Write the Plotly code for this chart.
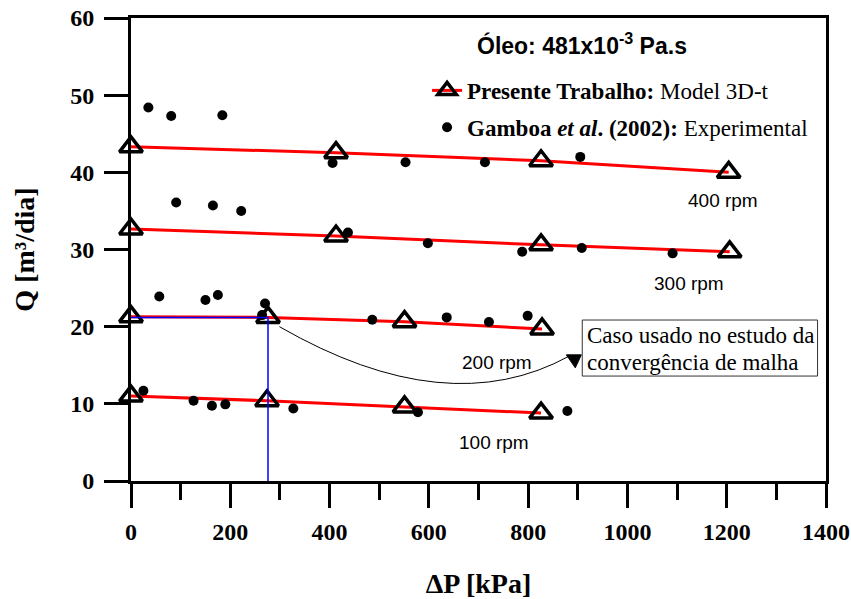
import plotly.graph_objects as go

# ---------------- data ----------------
# Presente Trabalho: Model 3D-t  (ΔP [kPa], Q [m³/dia])
dp_model_400 = [0, 413, 826, 1204]
q_model_400 = [43.3, 42.55, 41.5, 40.0]
dp_model_300 = [0, 413, 826, 1206]
q_model_300 = [32.65, 31.75, 30.6, 29.7]
dp_model_200 = [0, 276, 551, 828]
q_model_200 = [21.3, 21.2, 20.65, 19.7]
dp_model_100 = [0, 274, 551, 826]
q_model_100 = [11.0, 10.4, 9.6, 8.8]

# Gamboa et al. (2002): Experimental
dp_exp_400 = [35, 81, 184, 406, 553, 713, 905]
q_exp_400 = [48.4, 47.3, 47.4, 41.2, 41.3, 41.3, 42.0]
dp_exp_300 = [91, 165, 222, 437, 598, 788, 908, 1091]
q_exp_300 = [36.1, 35.7, 35.0, 32.2, 30.8, 29.7, 30.2, 29.5]
dp_exp_200 = [57, 150, 175, 264, 270, 486, 636, 721, 799]
q_exp_200 = [23.9, 23.45, 24.1, 21.5, 23.0, 20.9, 21.2, 20.6, 21.4]
dp_exp_100 = [25, 126, 163, 190, 327, 578, 879]
q_exp_100 = [11.7, 10.4, 9.76, 9.93, 9.4, 8.9, 9.07]

rpm_labels = ["400 rpm", "300 rpm", "200 rpm", "100 rpm"]
rpm_label_dp = [1193, 1125, 738, 732]
rpm_label_q = [36.4, 25.6, 15.4, 5.0]

# case used in the mesh convergence study (200 rpm, 2nd model point)
case_dp = dp_model_200[1]
case_q = q_model_200[1]

note_lines = ["Caso usado no estudo da", "convergência de malha"]

x_ticks = [0, 200, 400, 600, 800, 1000, 1200, 1400]
y_ticks = [0, 10, 20, 30, 40, 50, 60]

# ---------------- figure ----------------
def join(parts):
    out = []
    for i, p in enumerate(parts):
        if i:
            out.append(None)
        out.extend(p)
    return out

model_x = join([dp_model_400, dp_model_300, dp_model_200, dp_model_100])
model_y = join([q_model_400, q_model_300, q_model_200, q_model_100])
exp_x = dp_exp_400 + dp_exp_300 + dp_exp_200 + dp_exp_100
exp_y = q_exp_400 + q_exp_300 + q_exp_200 + q_exp_100

SERIF = "Liberation Serif, Times New Roman, serif"
SANS = "Liberation Sans, Arial, sans-serif"

W, H = 851, 599
ML, MR, MT, MB = 131, 25, 18, 118
PW, PH = W - ML - MR, H - MT - MB

fig = go.Figure()
fig.add_trace(go.Scatter(
    x=model_x, y=model_y, mode="lines+markers", connectgaps=False,
    name="<b>Presente Trabalho:</b> Model 3D-t", legendgroup="model",
    line=dict(color="#ff0000", width=3),
    marker=dict(symbol="triangle-up-open", size=20, color="black",
                line=dict(width=3.5, color="black")),
    cliponaxis=False,
))
fig.add_trace(go.Scatter(
    x=exp_x, y=exp_y, mode="markers",
    name="<b>Gamboa <i>et al</i>. (2002):</b> Experimental", legendgroup="exp",
    marker=dict(symbol="circle", size=10, color="black"),
    cliponaxis=False,
))
fig.add_trace(go.Scatter(
    x=[0, case_dp, case_dp], y=[case_q, case_q, 0], mode="lines",
    line=dict(color="#0000ff", width=1.5), showlegend=False,
))

for t, x, y in zip(rpm_labels, rpm_label_dp, rpm_label_q):
    fig.add_annotation(x=x, y=y, text=t, showarrow=False,
                       font=dict(family=SANS, size=19, color="black"))

fig.add_annotation(
    xref="paper", yref="paper", x=(581.7 - ML) / PW, y=(481 - 44) / PH,
    xanchor="center", yanchor="middle",
    text="<b>Óleo: 481x10<sup>-3</sup> Pa.s</b>", showarrow=False,
    font=dict(family=SANS, size=23, color="black"),
)

# note box
fig.add_shape(type="rect", xref="x", yref="y", x0=909, x1=1383, y0=13.6, y1=20.86,
              line=dict(color="#333333", width=1), fillcolor="white", layer="above")
for t, y in zip(note_lines, [18.9, 15.4]):
    fig.add_annotation(x=914, y=y, text=t, showarrow=False, xanchor="left", yanchor="middle",
                       font=dict(family=SERIF, size=23, color="black"))

# curved arrow
fig.add_shape(type="path", xref="x", yref="y",
              path="M 299,20.0 Q 637,7.5 883,16.2",
              line=dict(color="black", width=1))
fig.add_shape(type="path", xref="x", yref="y", xsizemode="pixel", ysizemode="pixel",
              xanchor=893, yanchor=15.7, path="M -8,5 L 7,5 L 1,-8 Z",
              fillcolor="black", line=dict(color="black", width=1))

axis_font = dict(family=SERIF, size=24, color="black")
fig.update_layout(
    width=W, height=H,
    margin=dict(l=ML, r=MR, t=MT, b=MB, autoexpand=False),
    paper_bgcolor="white", plot_bgcolor="white",
    font=dict(family=SERIF, color="black"),
    showlegend=True,
    legend=dict(x=0.426, y=0.89, xanchor="left", yanchor="top",
                bgcolor="rgba(0,0,0,0)", traceorder="grouped", tracegroupgap=4,
                font=dict(family=SERIF, size=23, color="black")),
    xaxis=dict(range=[0, 1400], tickvals=x_ticks, ticktext=[f"<b>{v}</b>" for v in x_ticks],
               ticks="outside", ticklen=24, tickwidth=3, tickcolor="black",
               minor=dict(dtick=100, ticks="outside", ticklen=16, tickwidth=3, tickcolor="black"),
               showline=True, linewidth=3, linecolor="black", mirror=True,
               showgrid=False, zeroline=False, tickfont=axis_font,
               ticklabelstandoff=3, automargin=False, ticklabeloverflow="allow",
               title=dict(text="<b>ΔP [kPa]</b>", standoff=38,
                          font=dict(family=SERIF, size=28, color="black"))),
    yaxis=dict(range=[0, 60], tickvals=y_ticks, ticktext=[f"<b>{v}</b>" for v in y_ticks],
               ticks="outside", ticklen=24, tickwidth=3, tickcolor="black",
               showline=True, linewidth=3, linecolor="black", mirror=True,
               showgrid=False, zeroline=False, tickfont=axis_font,
               ticklabelstandoff=5, automargin=False, ticklabeloverflow="allow",
               title=dict(text="<b>Q [m³/dia]</b>", standoff=28,
                          font=dict(family=SERIF, size=28, color="black"))),
)

fig.write_html("out.html", config={"displayModeBar": False},
               post_script="document.body.style.margin='0';")
